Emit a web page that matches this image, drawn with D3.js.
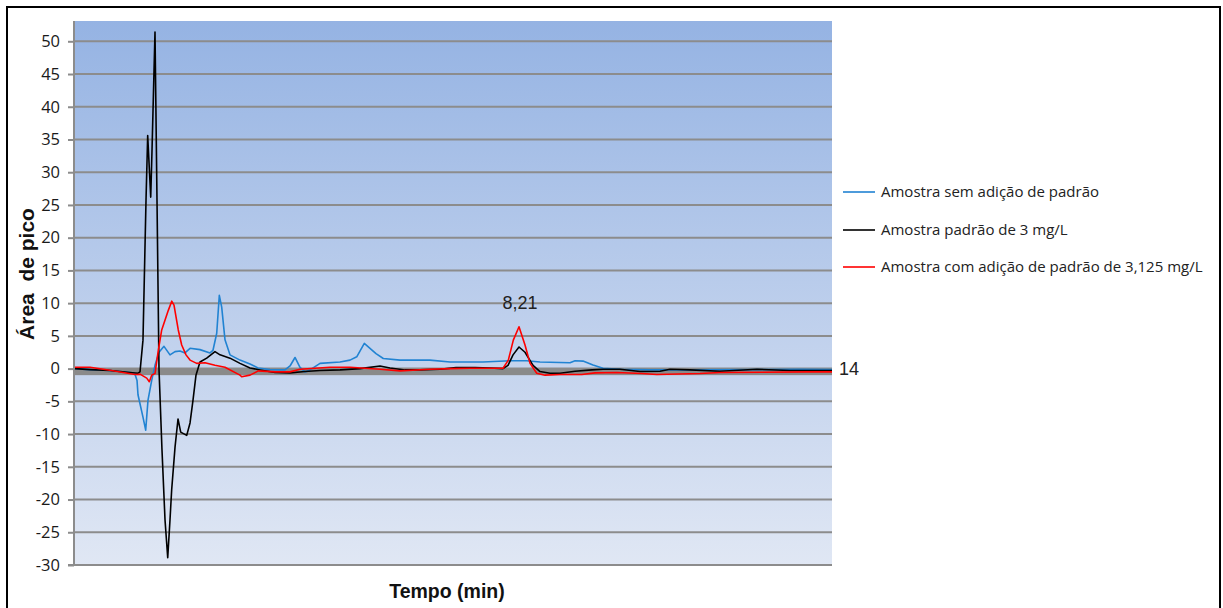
<!DOCTYPE html>
<html>
<head>
<meta charset="utf-8">
<script src="https://cdn.jsdelivr.net/npm/d3@7"></script>
<style>
  html, body { margin: 0; padding: 0; background: #fff; }
  svg { display: block; }
  text { white-space: pre; }
</style>
</head>
<body>
<svg id="chart" width="1223" height="608"></svg>
<script>
// ---------- data (time in min, peak area) ----------
const seriesNames = [
  "Amostra sem adição de padrão",
  "Amostra padrão de 3 mg/L",
  "Amostra com adição de padrão de 3,125 mg/L"
];

const blueTime = [0.018,0.296,0.665,1.034,1.127,1.164,1.182,1.274,1.324,1.367,1.435,1.496,1.570,1.662,1.773,1.866,1.958,2.050,2.143,2.327,2.512,2.567,2.636,2.684,2.728,2.789,2.881,3.066,3.251,3.399,3.620,3.897,3.990,4.082,4.174,4.267,4.359,4.544,4.913,5.098,5.222,5.362,5.467,5.578,5.713,6.021,6.575,6.945,7.554,8.053,8.362,8.607,9.161,9.254,9.401,9.586,9.771,10.085,10.639,11.562,12.671,13.410,14.0];
const blueValues = [0,-0.15,-0.3,-0.6,-0.85,-1.8,-4.0,-7.4,-9.4,-4.8,-1.8,0.5,2.5,3.4,2.1,2.6,2.7,2.4,3.1,2.9,2.4,2.8,5.4,11.2,9.4,4.4,2.1,1.3,0.7,0.1,-0.15,-0.2,0.4,1.7,0.2,-0.5,-0.2,0.8,1.0,1.3,1.8,3.85,3.1,2.3,1.55,1.3,1.3,1.0,1.0,1.2,1.2,1.0,0.9,1.2,1.15,0.55,0.05,-0.1,-0.2,-0.2,-0.15,-0.1,-0.15];

const blackTime = [0.018,0.296,0.665,1.034,1.182,1.219,1.274,1.330,1.361,1.417,1.441,1.496,1.533,1.570,1.625,1.681,1.731,1.773,1.804,1.866,1.921,1.971,2.082,2.143,2.198,2.253,2.327,2.451,2.604,2.697,2.881,3.066,3.251,3.436,3.713,3.990,4.267,4.544,4.913,5.283,5.652,5.837,6.114,6.391,6.760,7.056,7.407,7.684,7.924,8.016,8.109,8.219,8.330,8.478,8.607,8.792,8.977,9.254,9.568,9.771,10.085,10.454,10.824,11.008,11.378,11.932,12.615,13.225,14.0];
const blackValues = [0,-0.15,-0.3,-0.6,-0.7,-0.5,4.35,25.7,35.6,26.2,33.4,51.4,25.7,-0.1,-12.4,-23.1,-28.9,-23.1,-18.5,-12.0,-7.7,-9.7,-10.2,-8.3,-4.8,-1.0,1.0,1.6,2.6,2.1,1.6,0.8,0.1,-0.2,-0.6,-0.65,-0.45,-0.3,-0.2,0,0.4,0.1,-0.2,-0.2,-0.1,0.15,0.15,0.1,0,0.5,2.1,3.3,2.5,0.5,-0.45,-0.7,-0.7,-0.4,-0.2,-0.1,-0.1,-0.45,-0.4,-0.1,-0.2,-0.4,-0.1,-0.3,-0.3];

const redTime = [0.018,0.296,0.665,1.127,1.219,1.343,1.391,1.435,1.496,1.557,1.620,1.742,1.805,1.847,1.926,1.989,2.069,2.143,2.266,2.420,2.604,2.789,3.066,3.097,3.251,3.404,3.713,3.990,4.174,4.728,5.098,5.652,6.021,6.575,6.945,7.314,7.924,8.022,8.114,8.219,8.330,8.423,8.547,8.700,8.977,9.378,9.623,10.024,10.486,10.763,11.562,11.932,13.533,14.0];
const redValues = [0.2,0.2,-0.25,-0.9,-0.85,-1.45,-2.0,-1.0,-0.75,2.8,5.9,8.9,10.3,9.7,5.9,3.6,2.1,1.3,0.8,0.9,0.5,0.2,-1.0,-1.25,-1.0,-0.35,-0.5,-0.5,-0.1,0.2,0.2,-0.1,-0.35,-0.1,0,0.05,0.05,1.3,4.35,6.4,3.6,0.8,-0.7,-1.0,-0.9,-0.9,-0.65,-0.6,-0.75,-0.9,-0.75,-0.6,-0.5,-0.5];

const seriesColors = ["#2183d2", "#000000", "#ff0000"];
const yTicks = [-30,-25,-20,-15,-10,-5,0,5,10,15,20,25,30,35,40,45,50];
const peakLabel = { time: 8.219, value: 6.4, text: "8,21" };
const xEndLabel = "14";
const xTitle = "Tempo (min)";
const yTitle = "Área  de pico";

// ---------- layout ----------
const svg = d3.select("#chart");
const plot = { left: 74, right: 832, top: 21, bottom: 565 };
const x = d3.scaleLinear().domain([0, 14]).range([plot.left, plot.right]);
const y = d3.scaleLinear().domain([-30, 53.1]).range([plot.bottom, plot.top]);

// outer border
svg.append("rect").attr("x", 7).attr("y", 7).attr("width", 1213).attr("height", 604)
  .attr("fill", "#fff").attr("stroke", "#000").attr("stroke-width", 2);

// gradient background
const defs = svg.append("defs");
const grad = defs.append("linearGradient").attr("id", "bg").attr("x1", 0).attr("y1", 0).attr("x2", 0).attr("y2", 1);
grad.append("stop").attr("offset", "0%").attr("stop-color", "#95b3e3");
grad.append("stop").attr("offset", "100%").attr("stop-color", "#e0e7f4");
defs.append("clipPath").attr("id", "clip").append("rect")
  .attr("x", plot.left).attr("y", plot.top).attr("width", plot.right - plot.left).attr("height", plot.bottom - plot.top);

svg.append("rect").attr("x", plot.left).attr("y", plot.top)
  .attr("width", plot.right - plot.left).attr("height", plot.bottom - plot.top)
  .attr("fill", "url(#bg)");

// gridlines
svg.append("g").selectAll("line").data(yTicks).join("line")
  .attr("x1", plot.left).attr("x2", plot.right)
  .attr("y1", d => y(d)).attr("y2", d => y(d))
  .attr("stroke", "#8c8c8c").attr("stroke-width", 2);

// thick zero band (horizontal axis)
svg.append("rect").attr("x", plot.left).attr("width", plot.right - plot.left)
  .attr("y", y(0)).attr("height", y(-1) - y(0)).attr("fill", "#8a8a8a");

// y axis
const yAxis = d3.axisLeft(y).tickValues(yTicks).tickSize(6).tickPadding(8).tickFormat(d => String(d));
const gy = svg.append("g").attr("transform", `translate(${plot.left},0)`).call(yAxis);
gy.select(".domain").attr("stroke", "#8c8c8c").attr("stroke-width", 2)
  .attr("d", `M-6,${plot.bottom}H0V${plot.top}`);
gy.selectAll(".tick line").attr("stroke", "#8c8c8c").attr("stroke-width", 2);
gy.selectAll(".tick text").attr("font-family", "'Open Sans', sans-serif").attr("font-size", 16.5)
  .attr("fill", "#1a1a1a");

// lines
const line = d3.line().x(d => x(d[0])).y(d => y(d[1]));
const series = [
  d3.zip(blueTime, blueValues),
  d3.zip(blackTime, blackValues),
  d3.zip(redTime, redValues)
];
svg.append("g").attr("clip-path", "url(#clip)").selectAll("path").data(series).join("path")
  .attr("d", line).attr("fill", "none")
  .attr("stroke", (d, i) => seriesColors[i]).attr("stroke-width", 1.6)
  .attr("stroke-linejoin", "round");

// peak label
svg.append("text").attr("x", x(peakLabel.time) + 1).attr("y", 309)
  .attr("text-anchor", "middle").attr("font-family", "'Liberation Sans', Arial, sans-serif")
  .attr("font-size", 18).attr("fill", "#222").text(peakLabel.text);

// x end label
svg.append("text").attr("x", x(14) + 7).attr("y", y(0)).attr("dy", "0.38em")
  .attr("font-family", "'Liberation Sans', Arial, sans-serif")
  .attr("font-size", 18).attr("fill", "#222").text(xEndLabel);

// axis titles
svg.append("text").attr("x", 447).attr("y", 598).attr("text-anchor", "middle")
  .attr("font-family", "'Liberation Sans', Arial, sans-serif").attr("font-weight", "bold")
  .attr("font-size", 19.5).attr("fill", "#111").text(xTitle);

svg.append("text").attr("transform", "translate(34,274) rotate(-90)")
  .attr("text-anchor", "middle")
  .attr("font-family", "'Liberation Sans', Arial, sans-serif").attr("font-weight", "bold")
  .attr("font-size", 21).attr("fill", "#111").text(yTitle);

// legend
const legend = svg.append("g");
const legendY = [192, 230, 267];
seriesNames.forEach((name, i) => {
  legend.append("line").attr("x1", 843).attr("x2", 875)
    .attr("y1", legendY[i]).attr("y2", legendY[i])
    .attr("stroke", seriesColors[i]).attr("stroke-width", 1.6);
  legend.append("text").attr("x", 881).attr("y", legendY[i]).attr("dy", "0.35em")
    .attr("font-family", "'Open Sans', sans-serif").attr("font-size", 15)
    .attr("fill", "#222").text(name);
});
</script>
</body>
</html>
